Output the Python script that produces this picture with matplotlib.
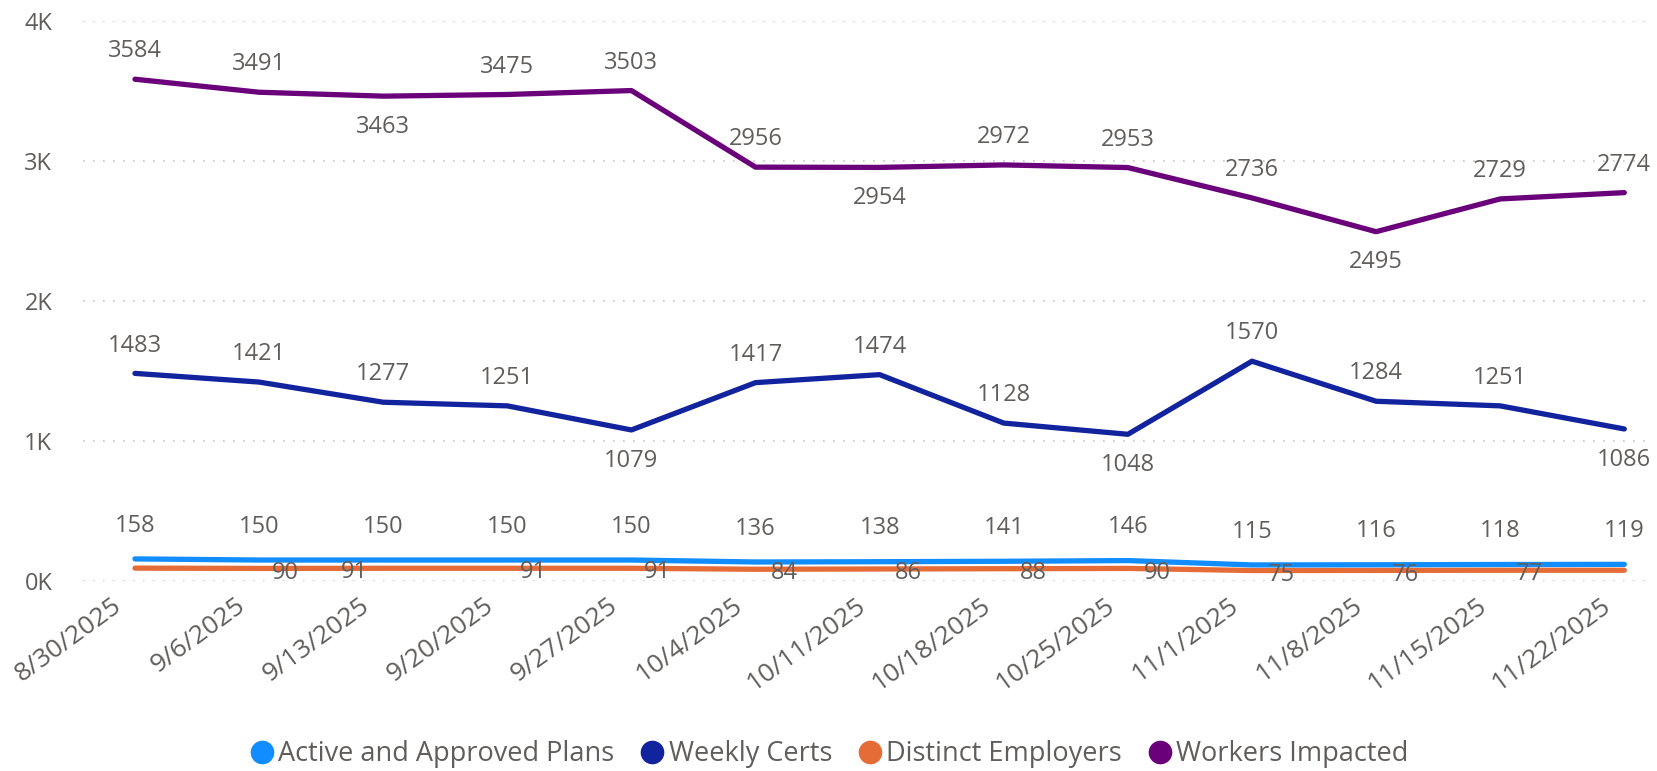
import matplotlib.pyplot as plt
from matplotlib.lines import Line2D
from matplotlib.transforms import ScaledTranslation

plt.rcParams["font.family"] = ["Open Sans", "DejaVu Sans"]

dates = ["8/30/2025", "9/6/2025", "9/13/2025", "9/20/2025", "9/27/2025", "10/4/2025",
         "10/11/2025", "10/18/2025", "10/25/2025", "11/1/2025", "11/8/2025",
         "11/15/2025", "11/22/2025"]
active_plans = [158, 150, 150, 150, 150, 136, 138, 141, 146, 115, 116, 118, 119]
weekly_certs = [1483, 1421, 1277, 1251, 1079, 1417, 1474, 1128, 1048, 1570, 1284, 1251, 1086]
employers = [92, 90, 91, 91, 91, 84, 86, 88, 90, 75, 76, 77, 77]
workers = [3584, 3491, 3463, 3475, 3503, 2956, 2954, 2972, 2953, 2736, 2495, 2729, 2774]

# label placement (style only)
workers_pos = "aabaaabaaabaa"
certs_pos = "aaaabaaabaaab"
emp_shift = [None, 19, -21, 19, 19, 21, 21, 21, 21, 21, 21, 21, None]

C_ACTIVE = "#118DFF"
C_CERTS = "#12239E"
C_EMP = "#E66C37"
C_WORK = "#6B007B"
TXT = "#605E5C"
FS = 17

fig = plt.figure(figsize=(16.57, 7.71), dpi=100)
ax = fig.add_axes([0.050, 0.2464, 0.946, 0.7264])
x = list(range(len(dates)))

for vals, col in [(employers, C_EMP), (active_plans, C_ACTIVE), (weekly_certs, C_CERTS), (workers, C_WORK)]:
    ax.plot(x, vals, color=col, lw=3.8, solid_capstyle="round", solid_joinstyle="round", zorder=3)

def label(i, v, dy, dx=0):
    ax.annotate(f"{v}", (x[i], v), xytext=(dx, dy), textcoords="offset points",
                ha="center", va="center", fontsize=FS, color=TXT, zorder=4)

for i, v in enumerate(workers):
    label(i, v, 20 if workers_pos[i] == "a" else -22)
for i, v in enumerate(weekly_certs):
    label(i, v, 20 if certs_pos[i] == "a" else -22)
for i, v in enumerate(active_plans):
    label(i, v, 24)
for i, v in enumerate(employers):
    if emp_shift[i] is not None:
        label(i, v, -3, emp_shift[i])

ax.set_xlim(-0.42, 12.21)
ax.set_ylim(0, 4000)
ax.set_yticks([0, 1000, 2000, 3000, 4000])
ax.set_yticklabels(["0K", "1K", "2K", "3K", "4K"])
ax.set_xticks(x)
ax.set_xticklabels(dates, rotation=36, ha="right", va="center", rotation_mode="anchor")
ax.tick_params(axis="y", length=0, labelsize=FS, labelcolor=TXT, pad=22)
ax.tick_params(axis="x", length=0, labelsize=19, labelcolor=TXT, pad=16)
shift = ScaledTranslation(-16 / 100, 0, fig.dpi_scale_trans)
for t in ax.get_xticklabels():
    t.set_transform(t.get_transform() + shift)
ax.grid(axis="y", color="#C8C6C4", linestyle=(0, (1, 5)), lw=1.2)
for s in ax.spines.values():
    s.set_visible(False)

handles = [Line2D([], [], marker="o", ls="", markersize=16, color=c)
           for c in (C_ACTIVE, C_CERTS, C_EMP, C_WORK)]
fig.legend(handles, ["Active and Approved Plans", "Weekly Certs", "Distinct Employers", "Workers Impacted"],
           loc="center", bbox_to_anchor=(0.5, 0.022), ncol=4, frameon=False,
           fontsize=19.5, labelcolor=TXT, handletextpad=0.1, columnspacing=0.9, handlelength=1.0)

fig.savefig("out.png", dpi=100)
